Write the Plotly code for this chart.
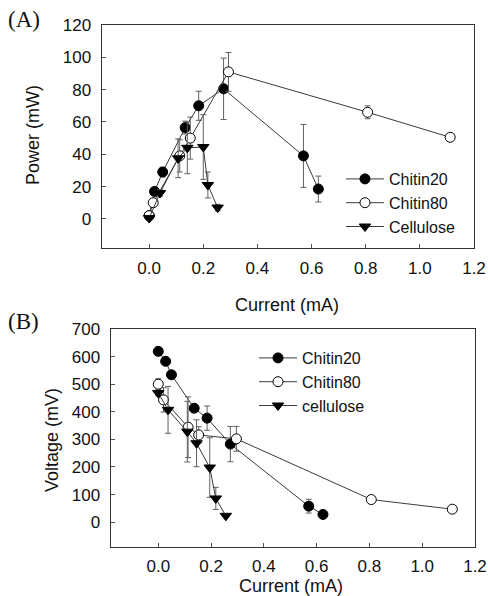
import plotly.graph_objects as go

# ---------------- data ----------------
# Panel A: power vs current
a_c20_x = [0.0, 0.02, 0.05, 0.133, 0.183, 0.275, 0.57, 0.625]
a_c20_y = [2, 17, 29, 56.5, 70, 80.5, 39, 18.5]
a_c20_e = [1, 2, 3, 4, 9, 19, 19.5, 8]

a_c80_x = [0.0, 0.015, 0.113, 0.152, 0.293, 0.807, 1.112]
a_c80_y = [2, 10, 39, 50, 91, 66, 50.5]
a_c80_e = [1, 1, 10, 13, 12, 4, 1]

a_cel_x = [0.0, 0.04, 0.107, 0.141, 0.2, 0.217, 0.253]
a_cel_y = [0.5, 16, 37.5, 44, 44.5, 21, 7]
a_cel_e = [1, 2, 12, 16, 20, 8, 2]

# Panel B: voltage vs current
b_c20_x = [0.0, 0.028, 0.05, 0.136, 0.185, 0.273, 0.57, 0.624]
b_c20_y = [619, 583, 534, 413, 377, 283, 58, 28]
b_c20_e = [5, 5, 5, 10, 44, 64, 25, 5]

b_c80_x = [0.0, 0.02, 0.113, 0.153, 0.296, 0.807, 1.114]
b_c80_y = [500, 443, 344, 316, 302, 82, 47]
b_c80_e = [20, 44, 110, 30, 45, 5, 5]

b_cel_x = [0.0, 0.037, 0.11, 0.145, 0.195, 0.218, 0.256]
b_cel_y = [468, 407, 328, 286, 198, 86, 23]
b_cel_e = [10, 85, 110, 85, 108, 40, 5]

names_a = ["Chitin20", "Chitin80", "Cellulose"]
names_b = ["Chitin20", "Chitin80", "cellulose"]

x_ticks = [0.0, 0.2, 0.4, 0.6, 0.8, 1.0, 1.2]
x_ticktext = ["0.0", "0.2", "0.4", "0.6", "0.8", "1.0", "1.2"]
a_yticks = [0, 20, 40, 60, 80, 100, 120]
b_yticks = [0, 100, 200, 300, 400, 500, 600, 700]

# ---------------- styles ----------------
W, H = 488, 596
FONT = "Liberation Sans, Arial, sans-serif"
LINE_C = "#3a3a3a"
ERR_C = "#606060"
styles = [
    dict(symbol="circle", color="black", line=dict(color="black", width=1)),
    dict(symbol="circle", color="white", line=dict(color="black", width=1)),
    dict(symbol="triangle-down", color="black", line=dict(color="black", width=1)),
]

fig = go.Figure()

def add(xs, ys, es, name, st, xa, ya, leg):
    fig.add_trace(go.Scatter(
        x=xs, y=ys, name=name, mode="lines+markers",
        xaxis=xa, yaxis=ya, legend=leg,
        line=dict(color=LINE_C, width=1),
        marker=dict(size=10, **st),
        error_y=dict(type="data", array=es, visible=True,
                     color=ERR_C, thickness=1, width=3),
    ))

A = [(a_c20_x, a_c20_y, a_c20_e), (a_c80_x, a_c80_y, a_c80_e), (a_cel_x, a_cel_y, a_cel_e)]
B = [(b_c20_x, b_c20_y, b_c20_e), (b_c80_x, b_c80_y, b_c80_e), (b_cel_x, b_cel_y, b_cel_e)]
for (xs, ys, es), nm, st in zip(A, names_a, styles):
    add(xs, ys, es, nm, st, "x", "y", "legend")
for (xs, ys, es), nm, st in zip(B, names_b, styles):
    add(xs, ys, es, nm, st, "x2", "y2", "legend2")

def px_x(p):
    return p / W

def px_y(p):
    return 1 - p / H

axis_common = dict(
    showline=True, linecolor="#333", linewidth=1, mirror=True,
    ticks="inside", ticklen=4, tickcolor="#555", tickwidth=1,
    showgrid=False, zeroline=False, automargin=False,
    tickfont=dict(family=FONT, size=17, color="#111"),
)

legend_common = dict(xanchor="left", yanchor="top", bgcolor="rgba(0,0,0,0)",
                     font=dict(family=FONT, size=16, color="#111"),
                     tracegroupgap=0, itemwidth=38)

fig.update_layout(
    width=W, height=H,
    margin=dict(l=0, r=0, t=0, b=0, autoexpand=False),
    paper_bgcolor="white", plot_bgcolor="white",
    font=dict(family=FONT, size=17, color="#111"),
    xaxis=dict(domain=[px_x(101.5), px_x(474)], range=[-0.176, 1.2], anchor="y",
               tickvals=x_ticks, ticktext=x_ticktext, ticklabelstandoff=5, **axis_common),
    yaxis=dict(domain=[px_y(248), px_y(25)], range=[-18, 120], anchor="x",
               tickvals=a_yticks, ticklabelstandoff=6, **axis_common),
    xaxis2=dict(domain=[px_x(110.5), px_x(475)], range=[-0.181, 1.2], anchor="y2",
                tickvals=x_ticks, ticktext=x_ticktext, ticklabelstandoff=4, **axis_common),
    yaxis2=dict(domain=[px_y(547), px_y(329)], range=[-90, 700], anchor="x2",
                tickvals=b_yticks, ticklabelstandoff=6, **axis_common),
    legend=dict(x=px_x(341), y=px_y(162), **legend_common),
    legend2=dict(x=px_x(254), y=px_y(341), **legend_common),
    showlegend=True,
)

ann = [
    dict(text="Current (mA)", x=px_x(287), y=px_y(305)),
    dict(text="Current (mA)", x=px_x(291), y=px_y(586)),
    dict(text="Power (mW)", x=px_x(33), y=px_y(135), textangle=-90),
    dict(text="Voltage (mV)", x=px_x(52), y=px_y(440), textangle=-90),
]
for a in ann:
    fig.add_annotation(xref="paper", yref="paper", showarrow=False,
                       xanchor="center", yanchor="middle",
                       font=dict(family=FONT, size=18, color="#111"), **a)

for lab, yy in [("(A)", 20), ("(B)", 321)]:
    fig.add_annotation(text=lab, xref="paper", yref="paper", showarrow=False,
                       x=px_x(6), y=px_y(yy), xanchor="left", yanchor="middle",
                       font=dict(family="Liberation Serif, Times New Roman, serif",
                                 size=23, color="#111"))

# remove the browser's default 8px body margin so the figure fills the window
fig.write_html("out.html",
               config={"displayModeBar": False},
               post_script="document.body.style.margin='0';document.body.style.overflow='hidden';")
